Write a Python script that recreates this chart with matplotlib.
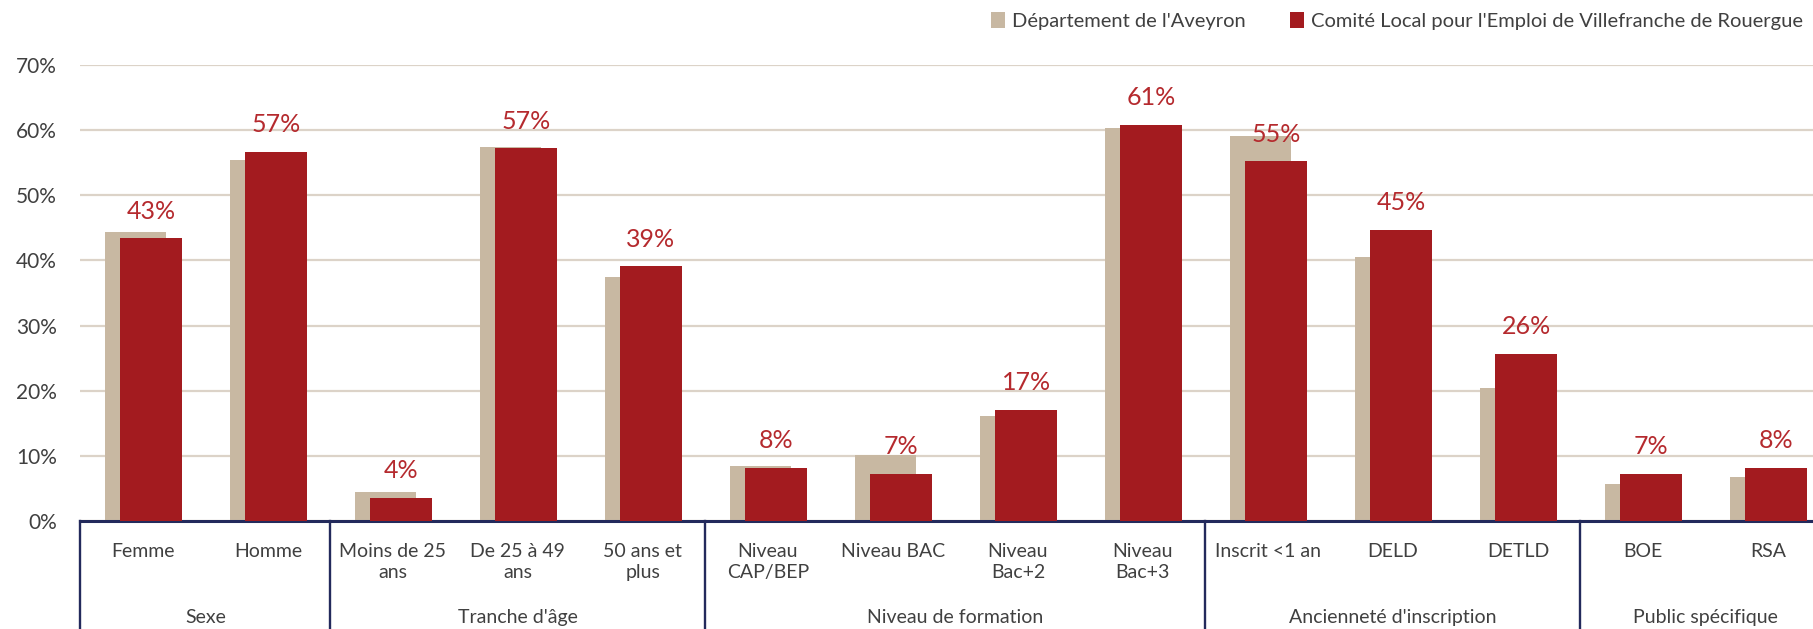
import matplotlib.pyplot as plt
import matplotlib.transforms as mtransforms
import numpy as np

plt.rcParams["font.family"] = ["Lato", "DejaVu Sans"]

categories = ["Femme", "Homme", "Moins de 25\nans", "De 25 à 49\nans", "50 ans et\nplus",
              "Niveau\nCAP/BEP", "Niveau BAC", "Niveau\nBac+2", "Niveau\nBac+3",
              "Inscrit <1 an", "DELD", "DETLD", "BOE", "RSA"]
groups = ["Sexe", "Tranche d'âge", "Niveau de formation", "Ancienneté d'inscription", "Public spécifique"]
group_sizes = [2, 3, 4, 3, 2]
aveyron = [44.3, 55.4, 4.5, 57.4, 37.4, 8.4, 10.2, 16.1, 60.3, 59.1, 40.5, 20.4, 5.7, 6.7]
villefranche = [43.4, 56.7, 3.6, 57.2, 39.1, 8.2, 7.2, 17.1, 60.8, 55.2, 44.7, 25.7, 7.2, 8.2]
series_names = ["Département de l'Aveyron", "Comité Local pour l'Emploi de Villefranche de Rouergue"]

beige = "#C8B8A2"
red = "#A31B1F"
navy = "#232A5C"
grey = "#404040"

fig = plt.figure(figsize=(18.13, 6.29), dpi=100)
ax = fig.add_axes([80.4 / 1813, 108 / 629, 1750 / 1813, 456 / 629])

x = np.arange(len(categories))
ax.bar(x - 0.06, aveyron, width=0.49, color=beige, label=series_names[0], zorder=2)
ax.bar(x + 0.065, villefranche, width=0.5, color=red, label=series_names[1], zorder=3)

for xi, v in zip(x, villefranche):
    ax.text(xi + 0.065, v + 2.4, f"{v:.0f}%", ha="center", va="bottom",
            fontsize=18, color="#B52A2E", zorder=4)

ax.set_xlim(-0.5, len(categories) - 0.5)
ax.set_ylim(0, 70)
ax.set_yticks(range(0, 71, 10))
ax.set_yticklabels([f"{t}%" for t in range(0, 71, 10)], fontsize=15, color=grey)
ax.yaxis.grid(True, color="#DCD3C8", lw=1.6, zorder=0)
ax.set_axisbelow(True)
ax.tick_params(axis="y", length=0, pad=17)

ax.set_xticks(x)
ax.set_xticklabels(categories, fontsize=14, color=grey, linespacing=1.3)
ax.tick_params(axis="x", length=0, pad=16)

for s in ["top", "right", "left"]:
    ax.spines[s].set_visible(False)
ax.spines["bottom"].set_color(navy)
ax.spines["bottom"].set_linewidth(2.2)

# group separators and labels below the axis
trans = mtransforms.blended_transform_factory(ax.transData, ax.transAxes)
bounds = np.concatenate([[0], np.cumsum(group_sizes)]) - 0.5
for b in bounds:
    ax.plot([b, b], [0, -0.25], color=navy, lw=1.7, transform=trans, clip_on=False)
for g, lo, hi in zip(groups, bounds[:-1], bounds[1:]):
    ax.text((lo + hi) / 2, -0.211, g, transform=trans, ha="center", va="center",
            fontsize=14, color=grey)

fig.legend(loc="center right", bbox_to_anchor=(1803 / 1813, 1 - 21 / 629), ncol=2,
           frameon=False, fontsize=14.5, handlelength=0.7, handleheight=0.8,
           handletextpad=0.35, columnspacing=2.2, labelcolor=grey, borderaxespad=0,
           borderpad=0)

fig.savefig("out.png", dpi=100)
